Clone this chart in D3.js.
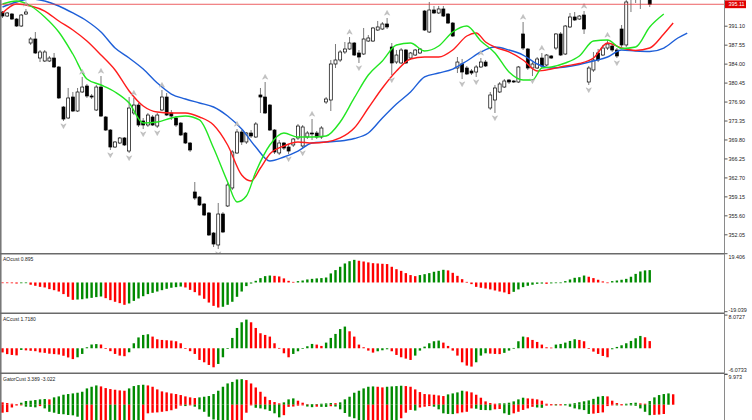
<!DOCTYPE html>
<html>
<head>
<meta charset="utf-8">
<script src="https://cdn.jsdelivr.net/npm/d3@7"></script>
<style>
  html, body { margin: 0; padding: 0; background: #fff; }
  svg { display: block; }
  text { font-family: "Liberation Sans", Arial, sans-serif; }
</style>
</head>
<body>
<svg id="chart" width="752" height="420"></svg>
<script>
// ---- price bars ----
const open = [393.66,392.91,393.29,392.35,391.04,393.29,387.86,388.61,385.05,384.49,
  384.49,385.05,383.37,375.88,373.82,377.75,375.13,378.69,379.81,377.94,
  375.32,379.62,374.01,371.57,368.39,369.14,370.08,367.64,374.76,376.25,
  373.26,372.51,374.01,372.32,375.32,377.75,374.76,373.82,372.88,371.01,
  369.14,359.97,359.03,357.72,356.04,352.29,350.05,355.85,357.35,360.72,
  367.27,371.20,369.33,371.01,370.26,378.13,377.75,376.25,371.57,367.27,
  369.14,368.39,368.77,370.08,368.58,370.26,371.01,371.01,370.26,376.82,
  377.19,383.93,384.68,386.18,386.74,387.86,385.99,385.80,388.23,388.23,
  390.29,390.48,391.42,387.11,384.30,384.12,386.55,385.05,385.61,385.99,
  393.85,389.92,394.04,393.48,394.23,393.29,391.60,383.18,383.93,383.18,
  382.62,382.43,383.37,384.30,375.69,377.19,378.69,379.62,380.93,380.75,
  380.56,389.55,386.74,383.18,383.18,385.05,383.74,385.43,386.92,389.55,
  385.80,390.86,392.73,392.35,393.10,380.56,382.81,385.99,385.61,386.92,
  387.30,386.55,390.48,387.49,396.28,397.41,396.66,397.78,397.78];
const high = [393.85,393.66,393.48,392.54,393.29,394.23,388.98,389.92,386.55,386.55,
  385.43,385.99,383.56,376.07,379.44,378.69,379.44,381.50,380.19,378.31,
  380.00,381.68,374.19,371.76,369.51,370.26,370.26,377.75,377.57,376.63,
  373.82,374.76,374.38,374.76,379.06,378.50,375.32,374.19,373.07,371.20,
  369.33,361.84,359.22,357.91,356.22,352.48,357.91,356.22,361.65,367.83,
  371.76,371.57,371.20,371.57,373.07,379.44,380.56,376.44,371.76,369.70,
  369.33,368.95,370.08,372.70,372.51,371.39,373.63,371.39,372.32,377.75,
  384.68,387.67,386.55,388.05,388.98,388.05,386.55,390.67,389.36,390.86,
  391.98,391.79,392.54,387.86,386.55,386.92,386.74,386.18,386.74,386.92,
  394.04,395.54,394.79,394.79,394.79,393.48,391.79,385.24,384.87,383.56,
  382.99,383.74,385.05,384.68,378.69,380.00,380.56,381.12,381.12,380.93,
  383.56,391.79,386.92,384.30,385.24,385.99,385.80,385.61,389.73,389.92,
  391.23,393.48,393.66,393.10,393.85,383.56,386.18,386.74,387.49,388.42,
  387.67,386.92,391.23,396.85,399.28,398.16,398.91,398.53,398.72];
const low = [392.54,392.73,392.17,390.86,390.86,393.10,387.49,385.80,384.30,384.30,
  384.30,383.18,377.38,373.26,373.63,374.94,374.94,378.50,377.57,377.38,
  375.13,374.01,371.39,367.83,368.20,368.95,368.58,367.27,374.38,372.14,
  371.76,372.14,372.32,371.95,375.13,374.19,373.45,372.14,370.45,368.95,
  367.46,358.47,357.35,355.47,351.73,349.67,349.30,352.29,357.16,360.34,
  367.08,368.77,368.95,370.08,370.08,374.76,374.57,371.39,367.08,366.89,
  367.83,367.08,368.39,369.70,368.20,369.89,369.70,369.89,369.89,376.44,
  375.13,383.18,384.30,385.80,386.55,385.43,384.12,385.61,388.05,388.05,
  390.11,390.29,390.48,381.87,383.93,383.93,383.93,384.68,385.43,385.80,
  390.11,389.73,393.29,393.29,392.73,391.42,388.98,382.24,381.12,381.87,
  381.87,381.50,383.18,383.37,375.32,374.76,378.50,379.44,380.19,380.37,
  380.37,386.55,382.81,381.68,382.99,383.18,383.56,384.87,386.55,385.43,
  385.61,390.67,391.98,392.17,389.55,380.00,382.43,384.30,385.43,386.55,
  386.18,385.05,387.11,387.11,393.66,395.35,394.23,396.10,394.60];
const close = [392.91,393.48,392.35,391.04,393.10,393.66,388.61,385.99,386.18,386.18,
  385.05,383.37,377.57,373.63,377.57,375.13,378.69,379.62,377.94,377.75,
  379.62,374.19,371.57,368.39,369.33,370.08,368.77,375.69,376.25,372.51,
  372.51,374.38,372.51,374.38,377.75,374.38,374.19,372.51,370.64,369.14,
  367.83,358.84,357.53,355.66,351.92,350.23,355.85,352.48,361.28,367.46,
  371.20,369.33,371.01,370.45,372.70,377.75,374.76,371.57,367.46,369.14,
  368.20,367.64,369.89,372.32,372.14,371.01,370.83,370.26,371.95,377.38,
  383.93,384.68,386.18,386.74,387.86,385.61,385.24,388.61,388.80,390.67,
  390.86,391.42,390.86,384.12,385.61,386.55,384.12,385.99,386.55,386.74,
  390.29,394.04,393.48,394.23,392.91,391.60,389.17,384.30,382.43,382.06,
  382.24,383.37,384.30,383.56,378.13,379.44,380.19,380.75,380.56,380.56,
  383.37,386.92,383.18,383.93,384.87,383.56,385.61,385.05,389.55,385.61,
  391.04,392.73,392.17,392.91,390.48,383.18,384.68,384.68,386.92,387.67,
  386.55,385.43,387.49,395.54,398.53,396.47,398.16,396.66,395.11];

// fractal marks (bar index)
const fractalUp = [5,17,21,28,34,50,56,66,74,82,102,111,115,124,129];
const fractalDown = [13,23,27,30,33,46,61,64,76,83,98,101,105,113,125,131];

// alligator lines, read at these bar indices (shifted forward past the last bar)
const jawIdx = [0,3,6,9,12,15,18,21,24,27,30,33,36,39,42,45,48,51,54,57,60,63,66,69,72,75,78,81,84,87,90,93,96,99,102,105,108,111,114,117,120,123,126,129,132,135,138,141,144,146];
const jaw = [394.60,395.54,396.10,395.72,394.79,393.48,391.98,389.92,386.92,385.05,382.99,380.37,378.31,377.38,376.63,375.88,374.19,371.76,368.39,365.77,366.52,367.64,369.14,369.33,369.51,369.98,371.01,373.82,376.44,378.69,381.50,382.24,382.99,384.49,386.18,387.11,386.55,385.61,383.93,383.18,383.37,383.84,384.49,385.24,386.55,386.36,386.27,386.92,388.80,389.73];
const teethIdx = [0,3,6,9,12,15,18,21,24,27,30,33,36,39,42,45,48,51,53,55,57,60,63,66,69,72,75,78,81,84,87,90,93,96,99,101,103,105,108,111,114,117,120,123,126,129,132,135,138,141,143];
const teeth = [393.48,395.16,394.79,393.85,391.98,390.29,388.23,385.61,382.81,378.88,376.07,374.94,374.76,374.76,374.01,372.51,368.77,363.15,362.03,364.46,367.08,368.58,369.33,369.14,369.33,370.08,371.95,375.69,379.44,382.62,384.87,385.24,385.24,386.55,389.17,389.73,388.05,387.11,386.18,384.68,382.62,382.99,383.56,384.02,385.05,387.86,386.92,386.46,386.92,389.55,391.60];
const lipsIdx = [0,3,6,9,12,15,18,21,24,27,30,33,36,39,42,45,48,50,52,54,57,60,63,66,69,72,75,78,81,84,87,90,93,96,99,102,105,108,111,113,115,117,120,123,126,129,132,135,138,141];
const lips = [395.16,395.72,394.79,392.73,389.92,385.80,381.12,380.00,378.69,376.63,372.88,373.07,373.82,374.19,373.45,368.20,361.84,358.10,359.22,363.71,368.77,371.01,370.26,370.26,370.45,373.07,377.57,381.87,384.49,387.49,387.86,386.36,387.30,389.92,391.04,388.23,385.99,382.43,380.93,380.93,383.18,383.37,384.12,385.43,388.23,388.42,386.83,387.11,390.86,393.29];

// oscillators
const ao = [-0.3,-0.4,-0.5,-0.7,-0.5,-0.3,-1.5,-2.2,-2.9,-3.3,
  -4.4,-5.1,-6.0,-7.7,-9.5,-11.5,-11.3,-11.1,-10.6,-10.2,
  -9.7,-9.3,-10.4,-11.7,-12.8,-13.7,-14.8,-13.9,-12.2,-10.6,
  -9.1,-7.7,-6.9,-6.0,-5.1,-4.2,-3.5,-3.1,-2.7,-3.3,
  -4.9,-6.4,-8.6,-10.8,-13.3,-15.5,-16.6,-16.1,-14.8,-12.8,
  -9.5,-6.0,-2.4,-0.7,1.1,2.9,4.2,4.6,4.4,4.0,
  2.7,1.1,0.4,0.9,1.3,2.0,2.4,2.7,2.9,3.3,
  6.0,8.2,10.4,12.6,14.1,15.0,14.4,13.9,13.3,12.8,
  12.6,12.4,12.2,10.4,8.8,7.7,6.2,4.9,4.2,4.9,
  5.5,6.2,7.1,7.7,8.4,8.0,6.4,4.4,2.2,0.4,
  -1.1,-2.9,-3.5,-4.0,-4.6,-5.3,-6.0,-6.6,-7.7,-6.2,
  -4.6,-3.1,-2.2,-1.5,-0.9,-0.7,-0.9,-0.6,-0.4,-0.2,
  0.9,2.0,3.1,3.5,4.6,3.8,2.9,1.8,0.7,-0.2,
  0.9,1.3,1.8,2.4,3.8,5.7,7.3,8.0,8.2];
const ac = [-1.0,-1.4,-1.6,-1.7,-0.4,-0.5,-0.6,-0.7,-1.0,-1.1,
  -1.3,-1.4,-1.5,-1.8,-2.2,-2.6,-2.16,-1.36,0.24,0.9,
  1.0,0.9,-0.16,-0.7,-1.36,-1.76,-1.9,-0.96,1.2,2.6,
  3.2,3.36,2.8,2.16,2.0,1.92,1.84,1.68,1.2,-0.08,
  -0.7,-1.36,-2.8,-3.36,-4.0,-4.56,-3.76,-2.16,-0.08,2.48,
  4.87,6.23,6.87,6.23,4.87,3.6,3.2,2.8,1.2,0.08,
  -1.2,-2.16,-1.36,-0.72,-0.16,0.48,1.04,0.88,0.56,1.36,
  2.48,3.44,4.6,5.2,4.07,2.8,0.88,0.24,-0.56,-1.04,
  -0.72,-0.48,-0.24,-0.72,-1.6,-2.16,-2.48,-2.8,-1.76,-0.56,
  0.4,1.2,1.68,1.84,1.36,0.56,-0.56,-1.76,-3.36,-4.15,
  -4.39,-3.36,-1.76,-1.2,-1.28,-1.36,-1.4,-1.1,-0.56,0.08,
  1.68,2.8,2.64,2.0,1.52,0.88,0.24,0.16,0.88,1.04,
  1.36,1.76,2.16,2.0,1.68,-0.16,-0.8,-1.36,-1.84,-2.16,
  -0.24,0.32,0.72,1.2,1.76,2.4,2.96,2.64,1.718];
const gatorUp = [0.76,0.54,0.32,0.11,0.65,1.19,1.3,1.51,1.73,1.84,
  1.73,2.38,2.7,3.24,3.46,3.67,3.89,4.21,5.29,5.83,
  6.26,5.94,5.4,5.08,4.86,4.64,4.54,5.29,6.05,6.37,
  6.48,6.26,5.83,4.97,4.32,4.0,3.67,3.46,3.13,2.7,
  2.38,2.16,2.38,2.59,2.81,3.46,4.54,5.83,6.91,7.4,
  8.2,8.3,8.0,6.9,5.6,4.2,2.6,1.5,0.86,0.43,
  0.76,1.73,2.05,1.3,0.65,0.11,0.16,0.22,0.32,0.43,
  0.54,0.49,0.76,1.73,2.59,3.89,4.54,5.29,5.83,5.94,
  5.83,5.62,5.83,5.94,6.05,6.16,6.05,5.83,4.97,4.1,
  3.46,3.35,3.24,3.02,2.81,3.35,3.67,4.0,4.54,4.32,
  4.0,3.24,2.27,1.08,0.54,0.32,0.43,0.45,0.65,1.08,
  1.73,2.27,2.05,1.94,1.73,1.3,0.32,0.22,0.2,0.11,
  0.15,0.3,0.5,0.8,1.1,1.4,1.9,2.6,2.8,2.7,
  1.3,0.54,0.22,0.32,0.54,0.65,0.43,0.32,1.19,2.38,
  3.13,3.46,3.67,3.389];
const gatorDown = [-2.6,-2.4,-0.9,-0.25,-0.15,-0.65,-0.7,-0.86,-0.45,-1.2,
  -2.3,-2.6,-3.0,-3.1,-3.35,-3.45,-3.9,-6.8,-6.5,-6.2,
  -6.4,-6.0,-5.6,-5.9,-6.2,-5.9,-6.1,-5.8,-6.0,-6.2,
  -5.9,-2.8,-2.6,-2.5,-2.3,-2.1,-1.8,-1.3,-0.3,-0.45,
  -0.2,-0.65,-1.5,-2.3,-3.9,-4.8,-6.0,-7.0,-8.0,-7.6,
  -7.2,-6.8,-2.6,-0.2,-1.0,-1.2,-1.5,-2.0,-2.8,-4.1,
  -3.4,-0.7,-0.6,-0.3,-0.1,-0.6,-0.8,-0.65,-0.7,-0.72,
  -0.5,-0.6,-1.5,-2.7,-3.9,-4.4,-5.5,-6.5,-6.2,-6.0,
  -5.8,-5.6,-5.4,-5.6,-5.8,-4.4,-2.6,-1.7,-1.9,-0.9,
  -0.65,-0.45,-0.65,-1.5,-2.8,-3.0,-3.05,-2.8,-2.5,-2.3,
  -1.2,-1.3,-1.7,-1.75,-1.8,-1.5,-1.4,-2.8,-3.3,-2.8,
  -2.3,-1.7,-1.2,-0.7,-0.9,-1.0,-0.3,-0.2,-0.25,-0.15,
  -0.2,-0.65,-1.2,-1.5,-1.75,-3.0,-2.9,-2.7,-2.5,-0.45,
  -0.15,-0.2,-0.1,-0.15,-0.2,-0.35,-1.2,-2.3,-3.4,-3.3,
  -3.2,-3.022];

// axis labels
const priceTicks = [352.05,355.60,359.15,362.70,366.25,369.80,373.35,376.90,380.45,384.00,387.55,391.10];
const bidPrice = 395.11;
const aoRange = [-19.039, 19.406];
const acRange = [-6.0733, 8.0727];
const gatorRange = [-9.973, 9.973];
const paneTitles = ["AOcust 0.895", "ACcust 1.7180", "GatorCust 3.389 -3.022"];

// ---- layout ----
const axisX = 724.5;
const green = "#008a00", red = "#ff0000";
const svg = d3.select("#chart");
const defs = svg.append("defs");

const x = d3.scaleLinear().domain([0, 138]).range([2.5, 649.72]);
const y = d3.scaleLinear().domain([352.05, 391.10]).range([234.3, 25.7]);
const yAO = d3.scaleLinear().domain(aoRange).range([311.2, 253.2]);
const yAC = d3.scaleLinear().domain(acRange).range([373.6, 314.6]);
const yGator = d3.scaleLinear().domain(gatorRange).range([435.4, 374.0]);

function clip(id, top, bottom) {
  defs.append("clipPath").attr("id", id).append("rect")
    .attr("x", 0).attr("y", top).attr("width", axisX).attr("height", bottom - top);
  return "url(#" + id + ")";
}

// ---- main pane ----
const main = svg.append("g").attr("clip-path", clip("clipMain", 0, 253));
const bars = close.map((c, i) => ({ i, o: open[i], h: high[i], l: low[i], c }));

main.append("g").selectAll("line").data(bars).join("line")
  .attr("x1", d => x(d.i)).attr("x2", d => x(d.i))
  .attr("y1", d => y(d.h)).attr("y2", d => y(d.l))
  .attr("stroke", "#555").attr("stroke-width", 0.8);

main.append("g").selectAll("rect").data(bars).join("rect")
  .attr("x", d => x(d.i) - 1.5).attr("width", 3)
  .attr("y", d => y(Math.max(d.o, d.c)))
  .attr("height", d => Math.max(0.8, Math.abs(y(d.o) - y(d.c))))
  .attr("fill", d => d.c >= d.o ? "#fff" : "#000")
  .attr("stroke", "#000").attr("stroke-width", 0.7);

const lineGen = d3.line().x(d => x(d[0])).y(d => y(d[1])).curve(d3.curveMonotoneX);
[[jawIdx, jaw, "#1e5fd8"], [teethIdx, teeth, "#ff1c1c"], [lipsIdx, lips, "#22e622"]]
  .forEach(([idx, vals, col]) => {
    main.append("path").datum(idx.map((k, j) => [k, vals[j]]))
      .attr("d", lineGen).attr("fill", "none")
      .attr("stroke", col).attr("stroke-width", 1.4);
  });

// fractal arrowheads
const arrow = "M0,-2.6L2.6,2.2L0,0.8L-2.6,2.2Z";
main.append("g").selectAll("path").data(fractalUp).join("path")
  .attr("d", arrow)
  .attr("transform", i => `translate(${x(i)},${y(high[i]) - 5})`)
  .attr("fill", "#c4c4c4").attr("stroke", "#a4a4a4").attr("stroke-width", 0.4);
main.append("g").selectAll("path").data(fractalDown).join("path")
  .attr("d", arrow)
  .attr("transform", i => `translate(${x(i)},${y(low[i]) + 5}) scale(1,-1)`)
  .attr("fill", "#c4c4c4").attr("stroke", "#a4a4a4").attr("stroke-width", 0.4);

// bid line
svg.append("line")
  .attr("x1", 0).attr("x2", axisX).attr("y1", y(bidPrice)).attr("y2", y(bidPrice))
  .attr("stroke", "#e8383c").attr("stroke-width", 0.8);

// ---- histograms ----
function histogram(id, top, bottom, values, scale, isGreen) {
  const g = svg.append("g").attr("clip-path", clip(id, top, bottom));
  g.selectAll("rect").data(values).join("rect")
    .attr("x", (d, i) => x(i) - 1.2).attr("width", 2.4)
    .attr("y", d => Math.min(scale(d), scale(0)))
    .attr("height", d => Math.max(0.7, Math.abs(scale(d) - scale(0))))
    .attr("fill", (d, i) => i > 0 && isGreen(d, values[i - 1]) ? green : red);
}
histogram("clipAO", 254.8, 312.6, ao, yAO, (d, p) => d > p);
histogram("clipAC", 314.2, 372.6, ac, yAC, (d, p) => d > p);
histogram("clipGU", 374.2, 420, gatorUp, yGator, (d, p) => d > p);
histogram("clipGD", 374.2, 420, gatorDown, yGator, (d, p) => Math.abs(d) > Math.abs(p));

// pane titles
[261, 321, 381].forEach((ty, k) => {
  svg.append("text").attr("x", 3).attr("y", ty)
    .attr("font-size", 5).attr("fill", "#222").text(paneTitles[k]);
});

// ---- frame ----
[253.8, 313.3, 373.3].forEach(sy => {
  svg.append("line").attr("x1", 0).attr("x2", axisX).attr("y1", sy).attr("y2", sy)
    .attr("stroke", "#6a6a6a").attr("stroke-width", 1.6);
});
svg.append("line").attr("x1", 0.8).attr("x2", 0.8).attr("y1", 0).attr("y2", 420)
  .attr("stroke", "#6a6a6a").attr("stroke-width", 1.4);
svg.append("line").attr("x1", axisX).attr("x2", axisX).attr("y1", 0).attr("y2", 420)
  .attr("stroke", "#8a8a8a").attr("stroke-width", 1);

// ---- axes ----
function styleAxis(g) {
  g.attr("font-size", 5.4).attr("font-family", "Liberation Sans, Arial, sans-serif");
  g.select(".domain").remove();
  g.selectAll(".tick line").attr("stroke", "#555");
  g.selectAll(".tick text").attr("fill", "#222");
}
svg.append("g").attr("transform", `translate(${axisX},0)`)
  .call(d3.axisRight(y).tickValues(priceTicks).tickSize(3).tickPadding(1)
    .tickFormat(d => d.toFixed(2)))
  .call(styleAxis);

function subAxis(scale, ticks, digits, topDy, botDy) {
  svg.append("g").attr("transform", `translate(${axisX},0)`)
    .call(d3.axisRight(scale).tickValues(ticks).tickSize(3).tickPadding(1)
      .tickFormat(d => d.toFixed(digits)))
    .call(styleAxis)
    .selectAll(".tick text").attr("y", d => d > 0 ? topDy : botDy);
}
subAxis(yAO, aoRange, 3, 4, -1.5);
subAxis(yAC, acRange, 4, 2.5, -4);
subAxis(yGator, [gatorRange[1]], 3, 3, 0);

// bid price box
const bidY = y(bidPrice);
svg.append("rect").attr("x", axisX + 0.5).attr("y", bidY - 3.9)
  .attr("width", 21).attr("height", 7.8).attr("fill", "#e00000");
svg.append("text").attr("x", axisX + 4).attr("y", bidY).attr("dy", "0.35em")
  .attr("font-size", 5.4).attr("fill", "#fff").text(bidPrice.toFixed(2));
</script>
</body>
</html>
